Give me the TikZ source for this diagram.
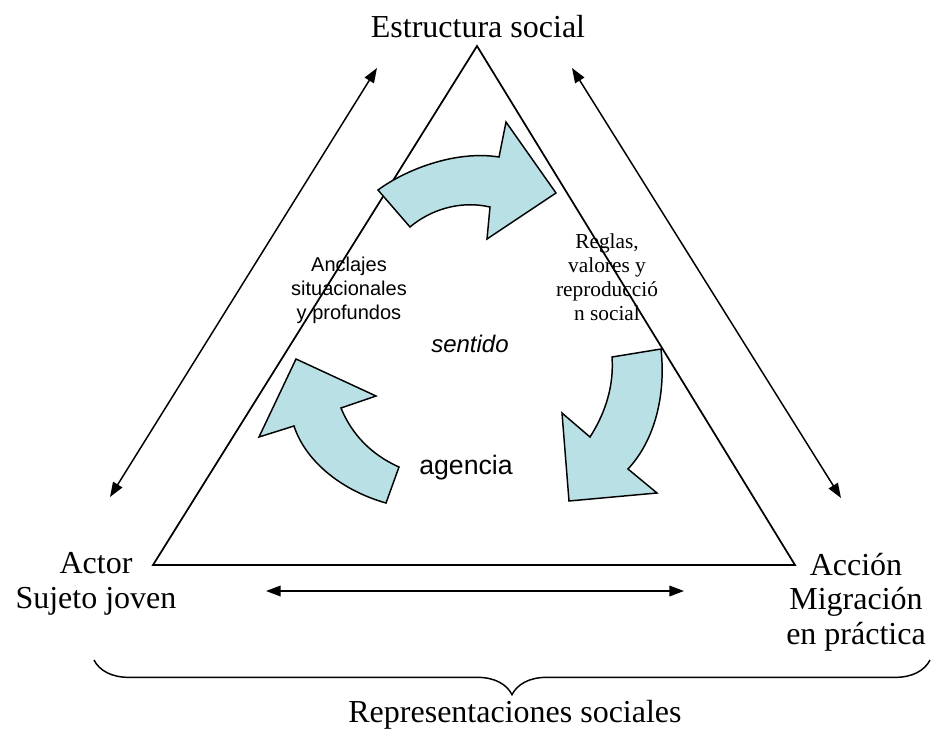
\documentclass[tikz,border=0pt]{standalone}
\usepackage{fontspec}
\setmainfont{Liberation Serif}
\setsansfont{Liberation Sans}
\usetikzlibrary{arrows.meta}
\usetikzlibrary{decorations.pathreplacing}
\definecolor{turn}{RGB}{185,224,228}

\begin{document}
\begin{tikzpicture}
  [
    x=0.75pt, y=-0.75pt,
    >={Triangle[length=11pt,width=8pt]},
    side/.style  = {draw, line width=1.3pt},
    both/.style  = {<->, line width=1.1pt},
    bent/.style  = {draw, line width=1.1pt, fill=turn, line join=miter},
    label/.style = {font=\fontsize{24}{26}\selectfont, align=center, inner sep=0pt},
    inside/.style = {font=\sffamily\fontsize{15}{18}\selectfont, align=center, inner sep=0pt},
  ]

  \useasboundingbox (0,0) rectangle (933,729);

  % the triangle
  \coordinate (apex) at (477,46);
  \coordinate (corner1) at (153,565);
  \coordinate (corner2) at (795,565);
  \draw[side] (apex) -- (corner1) -- (corner2) -- cycle;

  % arrows along the sides
  \coordinate (up1) at (377,68);
  \coordinate (down1) at (110,497);
  \coordinate (up2) at (572,68);
  \coordinate (down2) at (841,498);
  \coordinate (base1) at (266,591);
  \coordinate (base2) at (684,591);
  \draw[both] (up1) -- (down1);
  \draw[both] (up2) -- (down2);
  \draw[both] (base1) -- (base2);

  % the three turning arrows
  \filldraw[bent] (378,190) .. controls (405,170) and (455,150) .. (499,157)
    -- (506,122) -- (556,193) -- (487,239) -- (490,207)
    .. controls (460,200) and (430,210) .. (410,227) -- cycle;
  \filldraw[bent] (661,349) .. controls (666,395) and (655,440) .. (628,469)
    -- (657,493) -- (569,501) -- (562,413) -- (590,437)
    .. controls (606,412) and (614,385) .. (612,357) -- cycle;
  \filldraw[bent] (296,359) -- (376,396) -- (341,408)
    .. controls (352,435) and (372,455) .. (399,467) -- (386,503)
    .. controls (340,490) and (305,460) .. (294,426) -- (259,437) -- cycle;

  % corner labels
  \node (structure) [label, anchor=base] at (478,37) {Estructura social};
  \node (actor) [label] at (96,584) {Actor\\Sujeto joven};
  \node (action) [label] at (856,602) {Acción\\Migración\\en práctica};

  % texts inside
  \node (anchors) [inside] at (349,290) {Anclajes\\situacionales\\y profundos};
  \node (rules) [inside, font=\fontsize{16}{18}\selectfont] at (607,277) {Reglas,\\valores y\\reproducció\\n social};
  \node (sense) [font=\sffamily\itshape\fontsize{18}{20}\selectfont] at (470,344) {sentido};
  \node (agency) [font=\sffamily\fontsize{20}{22}\selectfont] at (466,468) {agencia};

  % brace underneath
  \coordinate (brace1) at (94,660);
  \coordinate (brace2) at (930,660);
  \draw[decorate, decoration={brace, mirror, amplitude=26pt}, line width=1.1pt] (brace1) -- (brace2);
  \node (reps) [label, anchor=base] at (515,722) {Representaciones sociales};

\end{tikzpicture}
\end{document}
